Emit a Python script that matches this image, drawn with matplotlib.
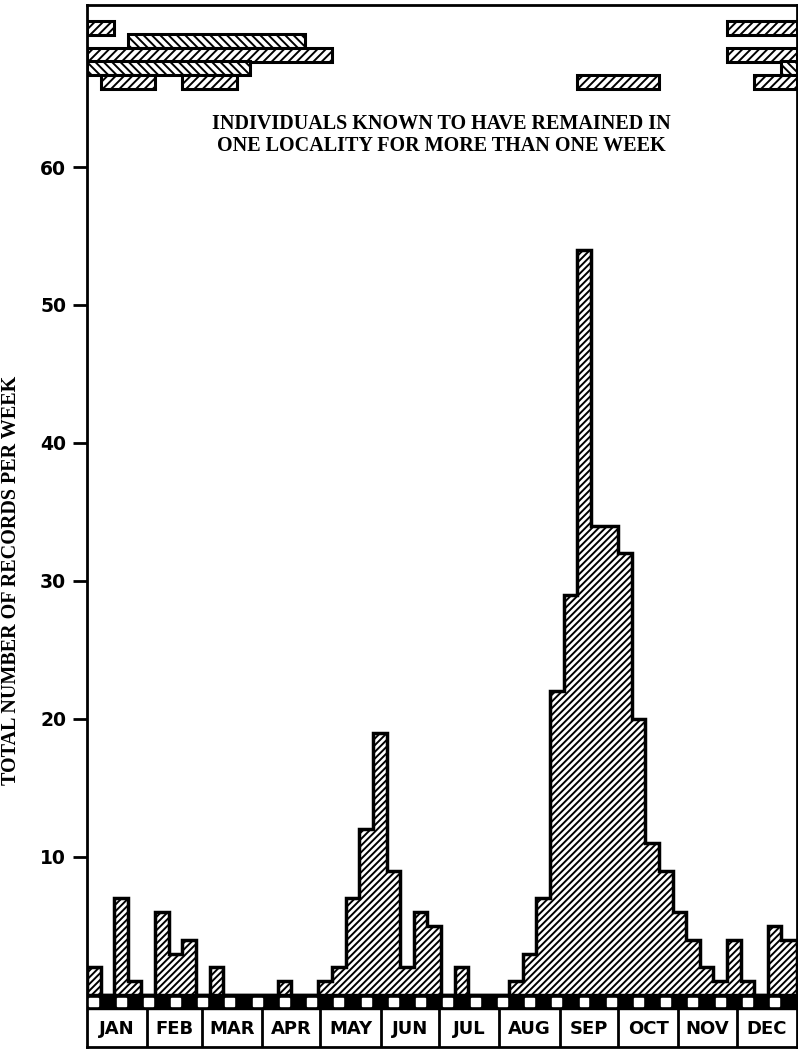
import numpy as np
import matplotlib.pyplot as plt
from matplotlib.patches import Rectangle

plt.rcParams['hatch.linewidth'] = 1.4

# records per week, week 1 .. week 52
weekly_records = [2, 0, 7, 1, 0, 6, 3, 4, 0, 2,
                  0, 0, 0, 0, 1, 0, 0, 1, 2, 7,
                  12, 19, 9, 2, 6, 5, 0, 2, 0, 0,
                  0, 1, 3, 7, 22, 29, 54, 34, 34, 32,
                  20, 11, 9, 6, 4, 2, 1, 4, 1, 0,
                  5, 4]

months = ['JAN', 'FEB', 'MAR', 'APR', 'MAY', 'JUN',
          'JUL', 'AUG', 'SEP', 'OCT', 'NOV', 'DEC']
month_days = [31, 28, 31, 30, 31, 30, 31, 31, 30, 31, 30, 31]

# individuals staying put: row, first week, last week, hatch
resident_row = [0, 0, 1, 2, 2, 3, 3, 4, 4, 4, 4]
resident_start = [0, 47, 3, 0, 47, 0, 51, 1, 7, 36, 49]
resident_end = [2, 52.14, 16, 18, 52.14, 12, 52.14, 5, 11, 42, 52.14]
resident_hatch = ['/', '/', '\\', '/', '/', '\\', '\\', '/', '/', '/', '/']

yticks = [10, 20, 30, 40, 50, 60]

year_end = sum(month_days) / 7
month_edges = np.concatenate([[0], np.cumsum(month_days)]) / 7
edges = np.append(np.arange(52), year_end)

fig = plt.figure(figsize=(7.98, 10.49), dpi=100)
ax = fig.add_axes([87 / 798, 2 / 1049, 710 / 798, 1042 / 1049])

k = 13.8  # pixels per record
ymin = -(1047 - 995) / k
ymax = (995 - 5) / k
ax.set_xlim(0, year_end)
ax.set_ylim(ymin, ymax)

# weekly histogram
ax.stairs(weekly_records, edges, baseline=0, fill=True, facecolor='white',
          edgecolor='black', hatch='/////', lw=2.5, zorder=2)

# film-strip band along the base
band = -1.05
ax.add_patch(Rectangle((0, 0.1), year_end, band - 0.1, color='black', zorder=3))
for w in range(0, 52, 2):
    ax.add_patch(Rectangle((w + 0.17, -0.78), 0.66, 0.58, color='white', zorder=4))

# month boxes
for m in month_edges[1:-1]:
    ax.plot([m, m], [band, ymin], color='black', lw=2, zorder=3)
for i, name in enumerate(months):
    ax.text((month_edges[i] + month_edges[i + 1]) / 2, (band + ymin) / 2 - 0.05, name,
            ha='center', va='center', fontsize=13, fontweight='bold',
            family='DejaVu Sans')

# resident individuals at top
for r, s, e, h in zip(resident_row, resident_start, resident_end, resident_hatch):
    yc = 70.1 - r * 0.98
    ax.add_patch(Rectangle((s, yc - 0.5), e - s, 1.0, facecolor='white',
                           edgecolor='black', hatch=h * 4, lw=2.2, zorder=3))

ax.text(26.0, 62.3, 'INDIVIDUALS KNOWN TO HAVE REMAINED IN\nONE LOCALITY FOR MORE THAN ONE WEEK',
        ha='center', va='center', fontsize=14.5, fontweight='bold',
        family='Liberation Serif', linespacing=1.15)

ax.set_xticks([])
ax.set_yticks(yticks)
ax.set_yticklabels([str(t) for t in yticks], fontsize=13.5, fontweight='bold',
                   family='DejaVu Sans')
ax.tick_params(axis='y', direction='out', length=10, width=2, pad=5)
for sp in ax.spines.values():
    sp.set_linewidth(2)

fig.text(11 / 798, 1 - 580 / 1049, 'TOTAL NUMBER OF RECORDS PER WEEK',
         rotation=90, ha='center', va='center', fontsize=14.5,
         fontweight='bold', family='Liberation Serif')

fig.savefig('out.png', dpi=100)
